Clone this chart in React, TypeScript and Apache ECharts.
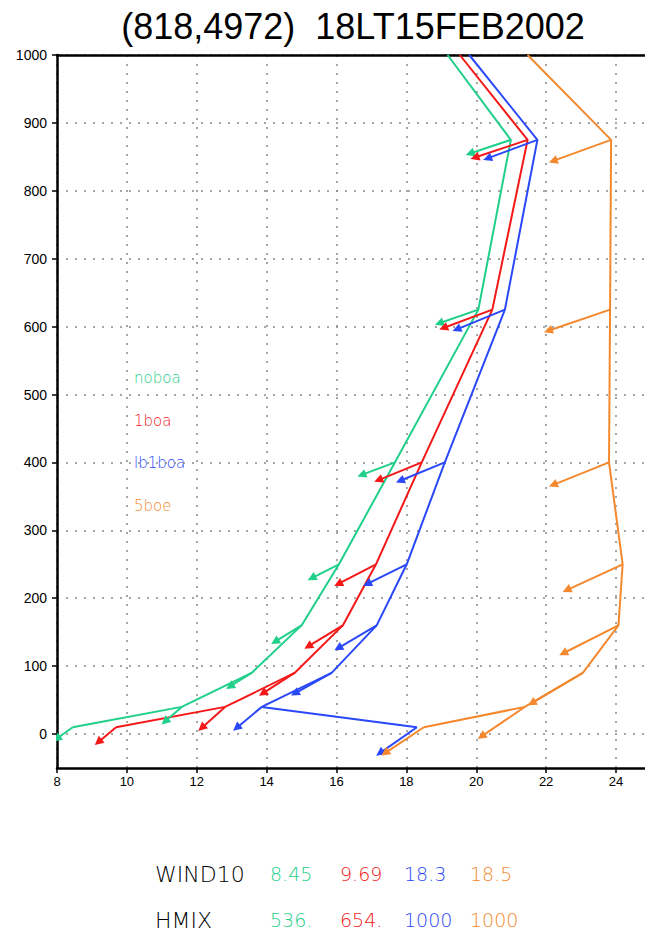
import React, { useEffect, useRef } from "react";
import * as echarts from "echarts";

// profile levels (m)
const levels = [10, 40, 90, 160, 250, 400, 625, 875, 1000];

// wind speed profiles
const noboaSpeed = [8.45, 11.57, 13.57, 15.0, 16.07, 17.67, 20.06, 20.99, 19.18];
const oneboaSpeed = [9.69, 12.81, 14.8, 16.18, 17.13, 18.44, 20.46, 21.47, 19.53];
const lb1boaSpeed = [18.3, 13.86, 15.86, 17.15, 18.01, 19.1, 20.82, 21.75, 19.8];
const fiveboeSpeed = [18.5, 21.39, 23.05, 24.07, 24.19, 23.8, 23.83, 23.86, 21.47];

// wind vector tips (speed axis, height axis) for levels 10..875
const noboaTipX = [7.99, 11.09, 12.95, 14.24, 15.29, 16.72, 18.94, 19.82];
const noboaTipY = [-7, 18.5, 70, 136, 229.6, 381.6, 605, 855];
const oneboaTipX = [9.18, 12.14, 13.89, 15.19, 16.05, 17.2, 19.06, 19.96];
const oneboaTipY = [-12, 9, 60, 129, 221, 374, 598, 849];
const lb1boaTipX = [17.24, 13.14, 14.81, 16.05, 16.88, 17.82, 19.44, 20.32];
const lb1boaTipY = [-28, 9, 60, 126.6, 221, 373, 596, 847.7];
const fiveboeTipX = [17.39, 20.15, 21.59, 22.49, 22.59, 22.2, 22.06, 22.2];
const fiveboeTipY = [-28, -3.5, 45.6, 119, 212, 367, 594, 844];

const xTicks = [8, 10, 12, 14, 16, 18, 20, 22, 24];
const yTicks = [0, 100, 200, 300, 400, 500, 600, 700, 800, 900, 1000];

const runNames = ["noboa", "1boa", "lb1boa", "5boe"];
const wind10 = ["8.45", "9.69", "18.3", "18.5"];
const hmix = ["536.", "654.", "1000", "1000"];
const titleText = "(818,4972)  18LT15FEB2002";

const colors = ["#1fcf8a", "#f41818", "#2a48f8", "#f4882e"];

export default function App() {
  const ref = useRef<HTMLDivElement>(null);
  useEffect(() => {
    if (!ref.current) return;
    const chart = echarts.init(ref.current, null, { renderer: "svg" });
    const speeds = [noboaSpeed, oneboaSpeed, lb1boaSpeed, fiveboeSpeed];
    const tipsX = [noboaTipX, oneboaTipX, lb1boaTipX, fiveboeTipX];
    const tipsY = [noboaTipY, oneboaTipY, lb1boaTipY, fiveboeTipY];

    const series: any[] = [];
    speeds.forEach((sp, k) => {
      series.push({
        type: "line",
        name: runNames[k],
        data: sp.map((s, i) => [s, levels[i]]),
        showSymbol: false,
        symbol: "none",
        lineStyle: { width: 2, color: colors[k] },
        itemStyle: { color: colors[k] },
        z: 3,
      });
      series.push({
        type: "lines",
        coordinateSystem: "cartesian2d",
        name: runNames[k] + " wind",
        data: tipsX[k].map((tx, i) => ({
          coords: [
            [sp[i], levels[i]],
            [tx, tipsY[k][i]],
          ],
        })),
        symbol: ["none", "triangle"],
        symbolSize: [7, 9],
        lineStyle: { width: 2, color: colors[k], opacity: 1, curveness: 0 },
        z: 4,
      });
    });

    const smallFont = { fontFamily: "DejaVu Sans", fontWeight: 200 as any };
    const graphics: any[] = [
      {
        type: "text",
        x: 353,
        y: 26,
        style: {
          text: titleText,
          fontFamily: "Liberation Sans",
          fontSize: 36,
          fill: "#000",
          textAlign: "center",
          textVerticalAlign: "middle",
        },
      },
    ];
    const legendY = [378, 421, 463, 506];
    runNames.forEach((n, k) => {
      graphics.push({
        type: "text",
        x: 134,
        y: legendY[k],
        style: {
          text: n,
          ...smallFont,
          fontSize: 15,
          fill: colors[k],
          textAlign: "left",
          textVerticalAlign: "middle",
        },
      });
    });
    const colX = [270, 340, 404, 470];
    graphics.push({
      type: "text",
      x: 155,
      y: 874,
      style: { text: "WIND10", ...smallFont, fontSize: 22, fill: "#000", textAlign: "left", textVerticalAlign: "middle" },
    });
    graphics.push({
      type: "text",
      x: 155,
      y: 920,
      style: { text: "HMIX", ...smallFont, fontSize: 22, fill: "#000", textAlign: "left", textVerticalAlign: "middle" },
    });
    colX.forEach((cx, k) => {
      graphics.push({
        type: "text",
        x: cx,
        y: 874,
        style: { text: wind10[k], ...smallFont, fontSize: 19, fill: colors[k], textAlign: "left", textVerticalAlign: "middle" },
      });
      graphics.push({
        type: "text",
        x: cx,
        y: 920,
        style: { text: hmix[k], ...smallFont, fontSize: 19, fill: colors[k], textAlign: "left", textVerticalAlign: "middle" },
      });
    });

    const gridLine = { show: true, lineStyle: { color: "#888", width: 1.5, type: [2, 7] as any } };
    const plain = (v: number) => String(v);
    chart.setOption({
      animation: false,
      grid: { left: 57, right: 0, top: 55, bottom: 163, containLabel: false },
      xAxis: [
        {
          type: "value",
          min: 8,
          max: 24.83,
          interval: 2,
          position: "bottom",
          axisLine: { show: true, onZero: false, lineStyle: { color: "#000", width: 2.5 } },
          axisTick: { show: true, length: 5, lineStyle: { color: "#000", width: 1.5 }, customValues: xTicks },
          axisLabel: {
            color: "#000",
            fontSize: 13,
            fontFamily: "Liberation Sans",
            margin: 7,
            customValues: xTicks,
            formatter: plain,
          },
          splitLine: gridLine,
        },
        {
          type: "value",
          min: 8,
          max: 24.83,
          position: "top",
          axisLine: { show: true, onZero: false, lineStyle: { color: "#000", width: 2.5 } },
          axisTick: { show: false },
          axisLabel: { show: false },
          splitLine: { show: false },
        },
      ],
      yAxis: {
        type: "value",
        min: -50,
        max: 1000,
        axisLine: { show: true, onZero: false, lineStyle: { color: "#000", width: 2.5 } },
        axisTick: { show: true, length: 5, lineStyle: { color: "#000", width: 1.5 }, customValues: yTicks },
        axisLabel: {
          color: "#000",
          fontSize: 14,
          fontFamily: "Liberation Sans",
          margin: 10,
          customValues: yTicks,
          formatter: plain,
        },
        splitLine: gridLine,
      },
      series,
      graphic: graphics,
    });
    return () => chart.dispose();
  }, []);
  return (
    <div
      ref={ref}
      style={{ position: "fixed", left: 0, top: 0, width: 645, height: 931, background: "#fff" }}
    />
  );
}
